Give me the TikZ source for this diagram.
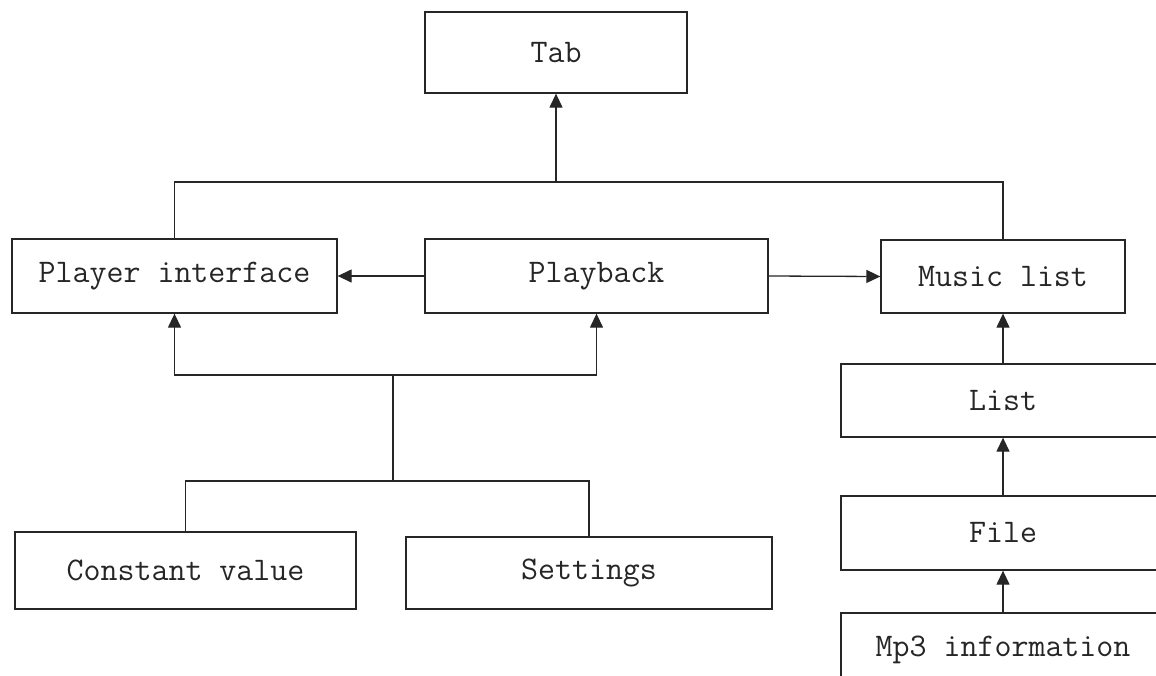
\documentclass[tikz,border=0pt]{standalone}
\usepackage{fontspec}
\usetikzlibrary{arrows.meta}
\begin{document}
\begin{tikzpicture}[x=1pt,y=-1pt,
  box/.style={draw=black!85,line width=1.3pt,minimum height=#1,inner sep=0pt,
    font=\ttfamily\fontsize{33}{38}\selectfont,text=black!85},
  box/.default=74pt,
  ln/.style={draw=black!85,line width=1.3pt},
  arr/.style={ln,-{Triangle[length=14pt,width=13pt]}}]
\useasboundingbox (0,0) rectangle (1156,675);
\node[box=81pt,minimum width=262pt] (tab) at (556,52.5) {Tab};
\node[box,minimum width=325pt] (pi) at (174.5,276) {Player interface};
\node[box,minimum width=343pt] (pb) at (596.5,276) {Playback};
\node[box=73pt,minimum width=244pt] (ml) at (1003,276.5) {Music list};
\node[box=73pt,minimum width=324pt] (list) at (1003,400.5) {List};
\node[box,minimum width=324pt] (file) at (1003,533) {File};
\node[box,minimum width=324pt] (mp3) at (1003,650) {Mp3 information};
\node[box=77pt,minimum width=341pt] (cv) at (185.5,570.5) {Constant value};
\node[box=72pt,minimum width=366pt] (set) at (589,573) {Settings};
\coordinate (top) at (556,182);
\coordinate (low) at (393,375);
\coordinate (mid) at (393,481);
\draw[ln] (pi.north) |- (top) -| (ml.north);
\draw[arr] (top) -- (tab.south);
\draw[arr] (pb.west) -- (pi.east);
\draw[arr] (pb.east) -- (ml.west);
\draw[arr] (low) -| (pi.south);
\draw[arr] (low) -| (pb.south);
\draw[ln] (low) -- (mid);
\draw[ln] (cv.north) |- (mid) -| (set.north);
\draw[arr] (list.north) -- (ml.south);
\draw[arr] (file.north) -- (list.south);
\draw[arr] (mp3.north) -- (file.south);
\end{tikzpicture}
\end{document}
